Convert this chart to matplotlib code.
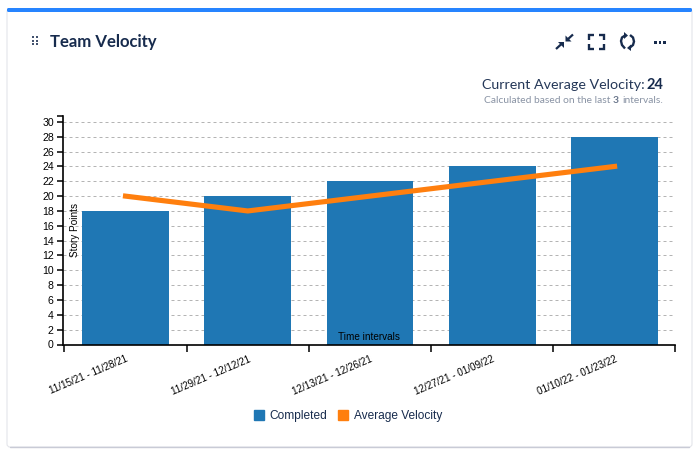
import matplotlib
matplotlib.use('Agg')
import matplotlib.pyplot as plt
from matplotlib.patches import FancyBboxPatch, Rectangle, Polygon, Patch

# Chart data
intervals = ["11/15/21 - 11/28/21", "11/29/21 - 12/12/21", "12/13/21 - 12/26/21",
             "12/27/21 - 01/09/22", "01/10/22 - 01/23/22"]
completed = [18, 20, 22, 24, 28]
avg_velocity = [20, 18, 20, 22, 24]
y_ticks = list(range(0, 31, 2))

W, H = 699, 451
BLUE = "#1f77b4"
ORANGE = "#ff7f0e"
NAVY = "#172b4d"
UI_FONT = ["Lato", "DejaVu Sans"]
CHART_FONT = ["Liberation Sans", "DejaVu Sans"]


def px(size):
    # css px to points at dpi 100
    return size * 0.72


fig = plt.figure(figsize=(W / 100, H / 100), dpi=100, facecolor="white")

# Card and header drawn in pixel coordinates
bg = fig.add_axes([0, 0, 1, 1], zorder=0)
bg.set_xlim(0, W)
bg.set_ylim(H, 0)
bg.axis("off")

bg.add_patch(FancyBboxPatch((7, 9), 685, 438, boxstyle="round,pad=0,rounding_size=3",
                            fc="white", ec="#e4e5ea", lw=0.8))
bg.plot([10, 689], [447, 447], color="#c9cbd6", lw=1.0, solid_capstyle="round")
bg.add_patch(FancyBboxPatch((7, 8), 685, 4, boxstyle="round,pad=0,rounding_size=1.5",
                            fc="#2684ff", ec="none"))

# Drag handle
for dx in (32, 35.5):
    for dy in (36.5, 40.5, 44):
        bg.add_patch(Rectangle((dx, dy - 1), 2, 2, fc="#42526e", ec="none"))

bg.text(50, 42.5, "Team Velocity", fontsize=px(16.7), fontweight="bold", color=NAVY,
        family=UI_FONT, ha="left", va="center")


def icon(xs, ys, lw=1.6):
    bg.plot(xs, ys, color=NAVY, lw=lw, solid_capstyle="butt", solid_joinstyle="miter")


def head(pts):
    bg.add_patch(Polygon(pts, closed=True, fc=NAVY, ec="none"))


# Collapse icon
icon([556, 562], [49, 43.5])
head([(557.5, 42), (563.5, 42), (563.5, 48)])
icon([573, 567], [34.5, 40])
head([(565.5, 41.5), (571.5, 41.5), (565.5, 35.5)])
# Fullscreen icon
for x0, sx in ((589, 1), (604, -1)):
    icon([x0 + 5 * sx, x0, x0], [35, 35, 40], lw=1.7)
    icon([x0 + 5 * sx, x0, x0], [49, 49, 44], lw=1.7)
# Refresh icon
icon([625, 622, 621, 622, 625], [35.5, 37.5, 41, 45, 48.5], lw=1.7)
icon([630, 633, 634, 633, 630], [35, 37.5, 41.5, 45, 47.5], lw=1.7)
head([(624, 32), (624, 39), (628, 35.5)])
head([(631, 44.5), (631, 51), (627, 48)])
# More icon
for x0 in (655.5, 660, 664.5):
    bg.add_patch(Rectangle((x0 - 1.2, 41), 2.4, 2.6, fc=NAVY, ec="none"))

# Summary text, regular and bold runs placed next to each other
bg.text(645, 85, "Current Average Velocity:", fontsize=px(14.3), color="#253858",
        family=UI_FONT, ha="right", va="center")
bg.text(663, 85, "24", fontsize=px(14.6), fontweight="bold", color=NAVY,
        family=UI_FONT, ha="right", va="center")
bg.text(484, 100.5, "Calculated based on the last", fontsize=px(10.2), color="#8993a4",
        family=UI_FONT, ha="left", va="center")
bg.text(613, 100.5, "3", fontsize=px(10.2), fontweight="bold", color="#6b778c",
        family=UI_FONT, ha="left", va="center")
bg.text(663, 100.5, "intervals.", fontsize=px(10.2), color="#8993a4",
        family=UI_FONT, ha="right", va="center")

# Chart
left, right, top, bottom = 63.5, 674.5, 116, 344.5
ax = fig.add_axes([left / W, 1 - bottom / H, (right - left) / W, (bottom - top) / H], zorder=1)
ax.patch.set_alpha(0)

x = list(range(len(intervals)))
ax.set_xlim(-0.507, 4.49)
ax.set_ylim(0, 30.8)
ax.set_axisbelow(True)
ax.yaxis.grid(True, color="#b4b4b4", lw=0.72, linestyle=(0, (3, 3)))
ax.bar(x, completed, width=0.71, color=BLUE, zorder=2)
ax.plot(x, avg_velocity, color=ORANGE, lw=3.7, zorder=3, solid_capstyle="projecting", solid_joinstyle="round")

for side in ("top", "right"):
    ax.spines[side].set_visible(False)
for side in ("left", "bottom"):
    ax.spines[side].set_linewidth(1.2)

ax.set_yticks(y_ticks)
ax.set_yticks([30.8], minor=True)
ax.tick_params(axis="y", which="both", length=4, width=1.1, pad=3, labelsize=px(10.5))
ax.set_xticks(x)
ax.set_xticks([-0.507, 0.5, 1.5, 2.5, 3.5, 4.49], minor=True)
ax.tick_params(axis="x", which="major", length=0, pad=7)
ax.tick_params(axis="x", which="minor", length=5, width=1.1)
ax.set_xticklabels(intervals, rotation=23, ha="right", rotation_mode="anchor",
                   fontsize=px(9.9), family=CHART_FONT)
for lab in ax.get_yticklabels():
    lab.set_family(CHART_FONT)

ax.text(369, 337, "Time intervals", transform=bg.transData, fontsize=px(10), family=CHART_FONT,
        ha="center", va="center", color="black", zorder=5)
ax.text(74.5, 230, "Story Points", transform=bg.transData, fontsize=px(10), family=CHART_FONT,
        ha="center", va="center", rotation=90, color="black", zorder=5)

handles = [Patch(color=BLUE, label="Completed"), Patch(color=ORANGE, label="Average Velocity")]
fig.legend(handles=handles, loc="center", bbox_to_anchor=(348 / W, 1 - 416 / H), ncol=2, frameon=False,
           prop={"family": CHART_FONT, "size": px(11.95)}, handlelength=0.85, handleheight=0.85,
           handletextpad=0.5, columnspacing=0.85, labelcolor="#172b4d")

fig.savefig("out.png", dpi=100, facecolor="white")
